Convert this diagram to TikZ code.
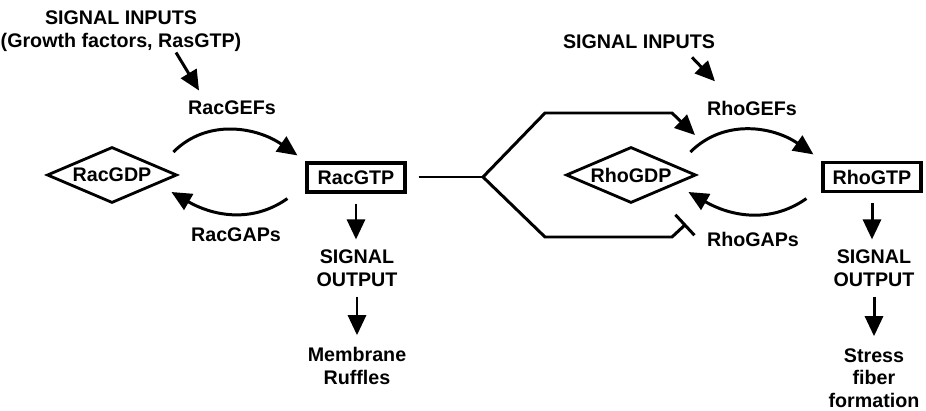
\documentclass[tikz,border=0pt]{standalone}
\usepackage{fontspec}
\setmainfont{Liberation Sans}
\usepackage{tikz}
\usetikzlibrary{arrows.meta,shapes.geometric}

\begin{document}
\begin{tikzpicture}[x=0.2mm,y=0.2mm,
  txt/.style={font=\fontsize{11.2}{12.8}\selectfont\bfseries,align=center,inner sep=0pt},
  gdp/.style={txt,diamond,draw,line width=1.6pt,minimum width=26mm,minimum height=11.2mm,aspect=2.3},
  gtp/.style={txt,draw,line width=1.8pt,minimum width=19.6mm,minimum height=5.8mm},
  ln/.style={line width=1.7pt},
  arr/.style={ln,-{Triangle[length=4mm,width=3.6mm]}}]
\useasboundingbox (0,0) rectangle (926,-411);

% Rac side
\node[txt] (inrac) at (121,-31) {SIGNAL INPUTS\\(Growth factors, RasGTP)};
\node[txt] (racgef) at (232,-108) {RacGEFs};
\node[gdp] (racgdp) at (112,-175) {RacGDP};
\node[gtp] (racgtp) at (356,-177.5) {RacGTP};
\node[txt] (racgap) at (236,-235) {RacGAPs};
\node[txt] (racout) at (357,-268) {SIGNAL\\OUTPUT};
\node[txt] (ruffles) at (357,-366) {Membrane\\Ruffles};

\draw[arr] ([shift={(55,-1)}]inrac.south) -- ++(23,-38);
\draw[arr] ([shift={(-5,23)}]racgdp.east) to[out=45,in=145] ([shift={(-8,6)}]racgtp.north west);
\draw[arr] ([shift={(-18,-5)}]racgtp.south west) to[out=215,in=-30] ([shift={(-7,-17)}]racgdp.east);
\draw[arr,shorten <=2mm,shorten >=2mm] (racgtp.south) -- (racgtp.south |- racout.north);
\draw[arr,shorten <=2mm,shorten >=2.4mm] (racout.south) -- (racout.south |- ruffles.north);

% Rho side
\node[txt] (inrho) at (639,-42) {SIGNAL INPUTS};
\node[txt] (rhogef) at (752,-108) {RhoGEFs};
\node[gdp] (rhogdp) at (631,-175) {RhoGDP};
\node[gtp] (rhogtp) at (872,-177) {RhoGTP};
\node[txt] (rhogap) at (753,-239) {RhoGAPs};
\node[txt] (rhoout) at (874,-268) {SIGNAL\\OUTPUT};
\node[txt] (stress) at (874,-378) {Stress\\fiber\\formation};

\draw[arr] ([shift={(53,-8)}]inrho.south) -- ++(23,-24);
\draw[arr] ([shift={(-7,23)}]rhogdp.east) to[out=45,in=145] ([shift={(-8,6.5)}]rhogtp.north west);
\draw[arr] ([shift={(-15,-5.5)}]rhogtp.south west) to[out=215,in=-30] ([shift={(-9,-17)}]rhogdp.east);
\draw[arr,shorten <=2mm,shorten >=2mm] (rhogtp.south) -- (rhogtp.south |- rhoout.north);
\draw[arr,shorten <=2mm,shorten >=2.4mm] (rhoout.south) -- (rhoout.south |- stress.north);

% Rac to Rho
\coordinate (br) at (483,-177);
\coordinate (gefin) at (695,-135);
\coordinate (gapin) at (686,-224);
\draw[ln,shorten <=2.4mm] (racgtp.east |- br) -- (br);
\draw[arr] (br) -- ++(62,64) -- ++(127,0) -- (gefin);
\draw[ln,-{Bar[width=5.6mm]}] (br) -- ++(62,-60) -- ++(127,0) -- (gapin);
\end{tikzpicture}
\end{document}
